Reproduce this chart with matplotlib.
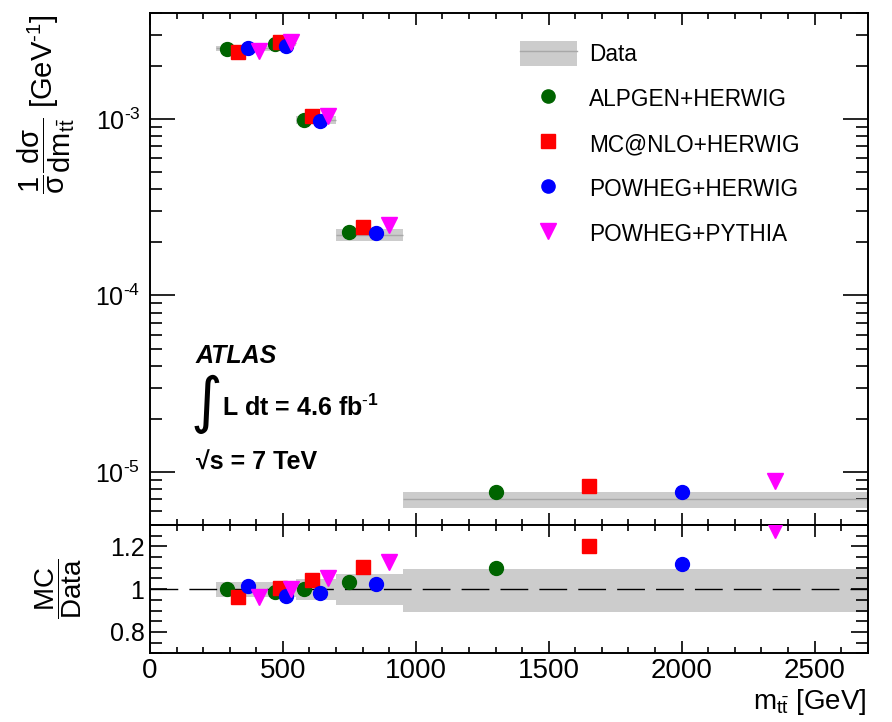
import matplotlib
matplotlib.use('Agg')
import matplotlib.pyplot as plt
from matplotlib.ticker import MultipleLocator, LogLocator, NullFormatter, FixedLocator, FixedFormatter
from matplotlib.patches import Patch
from matplotlib.lines import Line2D

plt.rcParams['font.family'] = ['Liberation Sans', 'DejaVu Sans']
plt.rcParams['mathtext.fontset'] = 'custom'
plt.rcParams['mathtext.rm'] = 'Liberation Sans'
plt.rcParams['mathtext.it'] = 'Liberation Sans:italic'
plt.rcParams['mathtext.bf'] = 'Liberation Sans:bold'
plt.rcParams['mathtext.sf'] = 'Liberation Sans'
plt.rcParams['mathtext.default'] = 'regular'
plt.rcParams['axes.unicode_minus'] = False

# ---------------- data ----------------
bin_edges = [250, 450, 550, 700, 950, 2700]
data_xsec = [2.52e-3, 2.70e-3, 0.99e-3, 2.21e-4, 7.0e-6]
data_rel_up = [0.033, 0.035, 0.047, 0.070, 0.095]
data_rel_dn = [0.035, 0.035, 0.050, 0.075, 0.108]

mc_names = ['ALPGEN+HERWIG', 'MC@NLO+HERWIG', 'POWHEG+HERWIG', 'POWHEG+PYTHIA']
mc_x = [
    [290, 470, 580, 750, 1300],
    [330, 490, 610, 800, 1650],
    [370, 510, 640, 850, 2000],
    [410, 530, 670, 900, 2350],
]
mc_xsec = [
    [2.50e-3, 2.66e-3, 0.986e-3, 2.275e-4, 7.67e-6],
    [2.40e-3, 2.72e-3, 1.034e-3, 2.44e-4, 8.37e-6],
    [2.53e-3, 2.60e-3, 0.969e-3, 2.245e-4, 7.73e-6],
    [2.42e-3, 2.72e-3, 1.04e-3, 2.50e-4, 8.83e-6],
]
mc_ratio = [
    [1.00, 0.989, 1.00, 1.033, 1.101],
    [0.961, 1.005, 1.044, 1.103, 1.203],
    [1.017, 0.969, 0.981, 1.025, 1.119],
    [0.965, 1.00, 1.05, 1.128, 1.278],
]
mc_colors = ['#006400', '#ff0000', '#0000ff', '#ff00ff']
mc_markers = ['o', 's', 'o', 'v']
mc_msize = [10, 10, 10, 11.5]

main_y_ticks = [1e-5, 1e-4, 1e-3]
main_y_tick_labels = [r'$10^{\text{-}5}$', r'$10^{\text{-}4}$', r'$10^{\text{-}3}$']
ratio_ticks = [0.8, 1.0, 1.2]
ratio_tick_labels = ['0.8', '1', '1.2']

# ---------------- figure ----------------
W, H = 892, 722
fig = plt.figure(figsize=(W / 100, H / 100), dpi=100)
L, R = 150, 867.7
T, M, B = 12.7, 525, 653.3
ax = fig.add_axes([L / W, 1 - M / H, (R - L) / W, (M - T) / H])
rax = fig.add_axes([L / W, 1 - B / H, (R - L) / W, (B - M) / H], sharex=ax)

band_col = '#cccccc'
line_col = '#a8a8a8'

lo = bin_edges[:-1]
hi = bin_edges[1:]
up = [v * (1 + u) for v, u in zip(data_xsec, data_rel_up)]
dn = [v * (1 - d) for v, d in zip(data_xsec, data_rel_dn)]
ax.stairs(up, bin_edges, baseline=dn, fill=True, color=band_col, lw=0, zorder=1)
ax.hlines(data_xsec, lo, hi, colors=line_col, lw=1, zorder=2)

rup = [1 + u for u in data_rel_up]
rdn = [1 - d for d in data_rel_dn]
rax.stairs(rup, bin_edges, baseline=rdn, fill=True, color=band_col, lw=0, zorder=1)
rax.axhline(1.0, color='black', lw=1.0, dashes=(20, 8), zorder=2)

for i in range(4):
    ax.plot(mc_x[i], mc_xsec[i], ls='none', marker=mc_markers[i], ms=mc_msize[i],
            color=mc_colors[i], mec=mc_colors[i], zorder=3 + i)
    rax.plot(mc_x[i], mc_ratio[i], ls='none', marker=mc_markers[i], ms=mc_msize[i],
             color=mc_colors[i], mec=mc_colors[i], zorder=3 + i, clip_on=True)

ax.set_yscale('log')
ax.set_xlim(0, 2700)
ax.set_ylim(5e-6, 4e-3)
rax.set_ylim(0.7, 1.3)

for a in (ax, rax):
    for s in a.spines.values():
        s.set_linewidth(1.4)
    a.xaxis.set_major_locator(MultipleLocator(500))
    a.xaxis.set_minor_locator(MultipleLocator(100))
    a.tick_params(which='both', direction='in', top=True, right=True, width=1.2)
    a.tick_params(axis='x', which='major', length=8.6)
    a.tick_params(axis='x', which='minor', length=4.3)

ax.yaxis.set_major_locator(FixedLocator(main_y_ticks))
ax.yaxis.set_major_formatter(FixedFormatter(main_y_tick_labels))
ax.yaxis.set_minor_locator(LogLocator(base=10, subs=[2, 3, 4, 5, 6, 7, 8, 9]))
ax.yaxis.set_minor_formatter(NullFormatter())
ax.tick_params(axis='y', which='major', length=18, labelsize=18, pad=7)
ax.tick_params(axis='y', which='minor', length=8.6)
ax.tick_params(axis='x', labelbottom=False)

rax.yaxis.set_major_locator(FixedLocator(ratio_ticks))
rax.yaxis.set_major_formatter(FixedFormatter(ratio_tick_labels))
rax.yaxis.set_minor_locator(MultipleLocator(0.05))
rax.tick_params(axis='y', which='major', length=12, labelsize=18, pad=4)
rax.tick_params(axis='y', which='minor', length=8.6)
rax.tick_params(axis='x', which='major', labelsize=20, pad=3.5)

# axis titles
fig.text(867 / W, 1 - 709 / H, r'm$_{t\bar{t}}$ [GeV]', ha='right', va='baseline', fontsize=20)
fig.text(46 / W, 1 - 14 / H, r'$\dfrac{1}{\sigma}\dfrac{d\sigma}{dm_{t\bar{t}}}$ [GeV$^{\text{-}1}$]',
         rotation=90, ha='center', va='top', fontsize=21)
fig.text(59 / W, 1 - 589 / H, r'$\dfrac{MC}{Data}$', rotation=90, ha='center', va='center',
         fontsize=20)

# ATLAS labels
fig.text(196 / W, 1 - 363 / H, 'ATLAS', fontsize=18, fontweight='bold', fontstyle='italic',
         va='baseline')
fig.text(191 / W, 1 - 404 / H, '\u222b', fontsize=44, family=['DejaVu Sans'],
         va='center', ha='left')
fig.text(222 / W, 1 - 416 / H, r'L dt = 4.6 fb$^{\mathbf{\text{-}1}}$', fontsize=18,
         fontweight='bold', va='baseline')
fig.text(196 / W, 1 - 470 / H, '\u221as = 7 TeV', fontsize=18, fontweight='bold', va='baseline')

# legend
handles = [(Patch(facecolor=band_col, edgecolor='none'), Line2D([], [], color=line_col, lw=1))]
for i in range(4):
    handles.append(Line2D([], [], ls='none', marker=mc_markers[i], ms=mc_msize[i] * 0.95,
                          color=mc_colors[i], mec=mc_colors[i]))
labels = ['Data'] + mc_names
ax.legend(handles, labels, loc='upper left', bbox_to_anchor=((520 - L) / (R - L), 1 - (41 - T) / (M - T)),
          frameon=False, fontsize=16.3, handlelength=2.5, handleheight=1.35, labelspacing=0.86,
          handletextpad=0.55, borderpad=0, borderaxespad=0)

fig.savefig('out.png', dpi=100)
